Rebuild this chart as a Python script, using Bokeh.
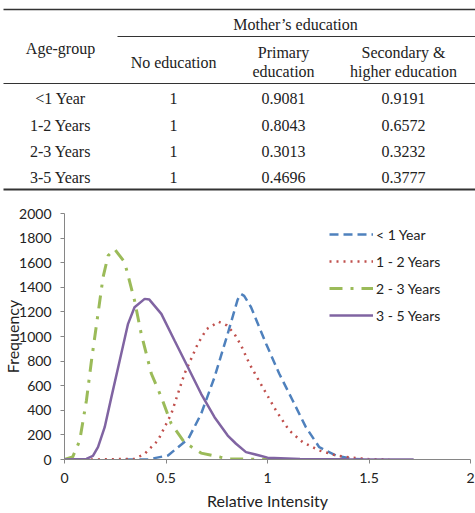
from bokeh.plotting import figure
from bokeh.layouts import column
from bokeh.models import Range1d, FixedTicker, Legend, LegendItem
from bokeh.embed import file_html
from bokeh.resources import INLINE

# ---------------- table data ----------------
age_groups = ["<1 Year", "1-2 Years", "2-3 Years", "3-5 Years"]
no_education = ["1", "1", "1", "1"]
primary_education = ["0.9081", "0.8043", "0.3013", "0.4696"]
secondary_higher = ["0.9191", "0.6572", "0.3232", "0.3777"]

# ---------------- chart data ----------------
series_names = ["< 1 Year", "1 - 2 Years", "2 - 3 Years", "3 - 5 Years"]

x_lt1 = [0.30, 0.41, 0.51, 0.61, 0.673, 0.739, 0.804, 0.853, 0.87, 0.885, 0.919, 0.993, 1.058, 1.124, 1.189, 1.255, 1.337, 1.419, 1.5]
y_lt1 = [0, 0, 33, 168, 371, 669, 1022, 1300, 1345, 1330, 1238, 941, 697, 480, 263, 100, 33, 5, 0]

x_1to2 = [0.13, 0.345, 0.395, 0.46, 0.526, 0.591, 0.657, 0.70, 0.76, 0.80, 0.837, 0.87, 0.911, 0.976, 1.042, 1.107, 1.173, 1.255, 1.337, 1.419, 1.5, 1.6]
y_1to2 = [0, 5, 46, 154, 371, 697, 941, 1060, 1120, 1090, 1022, 927, 778, 588, 398, 236, 141, 73, 33, 14, 3, 0]

x_2to3 = [0, 0.04, 0.075, 0.108, 0.133, 0.165, 0.19, 0.215, 0.247, 0.296, 0.345, 0.378, 0.428, 0.477, 0.526, 0.59, 0.673, 0.77, 0.82, 0.95, 1.0]
y_2to3 = [0, 20, 154, 480, 805, 1184, 1482, 1658, 1710, 1604, 1293, 1022, 697, 507, 290, 141, 52, 19, 5, 2, 0]

x_3to5 = [0, 0.108, 0.14, 0.165, 0.198, 0.231, 0.272, 0.313, 0.345, 0.395, 0.418, 0.477, 0.542, 0.608, 0.673, 0.739, 0.804, 0.845, 0.894, 0.96, 1.0, 1.16, 1.4, 1.72]
y_3to5 = [0, 5, 30, 100, 263, 507, 805, 1103, 1238, 1306, 1300, 1184, 967, 750, 534, 344, 195, 128, 60, 33, 15, 5, 2, 0]

x_ticks = [0, 0.5, 1, 1.5, 2]
x_tick_labels = ["0", "0.5", "1", "1.5", "2"]
y_ticks = list(range(0, 2001, 200))

# ---------------- table figure ----------------
TW, TH = 475, 198
SERIF = "Liberation Serif"
tbl = figure(width=TW, height=TH, x_range=Range1d(0, TW), y_range=Range1d(TH, 0),
             x_axis_location=None, y_axis_location=None, frame_align=False,
             output_backend="svg", toolbar_location=None, min_border=0)
tbl.grid.visible = False
tbl.outline_line_color = None

# rules
tbl.segment(x0=[3], y0=[9], x1=[475], y1=[9], line_color="#333333", line_width=1.5)
tbl.segment(x0=[117], y0=[36], x1=[475], y1=[36], line_color="#333333", line_width=1)
tbl.segment(x0=[3], y0=[83], x1=[475], y1=[83], line_color="#333333", line_width=1.2)
tbl.segment(x0=[3], y0=[189], x1=[475], y1=[189], line_color="#333333", line_width=2)

col_x = [60, 173, 283, 403]
hdr = dict(text_font=SERIF, text_font_size="16px", text_color="#222222",
           text_align="center", text_baseline="middle")
tbl.text(x=[295], y=[24], text=["Mother\u2019s education"], **hdr)
tbl.text(x=[col_x[0]], y=[48], text=["Age-group"], **hdr)
tbl.text(x=[col_x[1]], y=[62], text=["No education"], **hdr)
tbl.text(x=[col_x[2], col_x[2]], y=[52, 71], text=["Primary", "education"], **hdr)
tbl.text(x=[col_x[3], col_x[3]], y=[52, 71], text=["Secondary &", "higher education"], **hdr)

row_y = [98, 125, 151, 177]
for cx, vals in zip(col_x, [age_groups, no_education, primary_education, secondary_higher]):
    tbl.text(x=[cx] * len(vals), y=row_y, text=vals, **hdr)

# ---------------- chart figure ----------------
SANS = "Lato"
p = figure(width=475, height=315, x_range=Range1d(0, 2), y_range=Range1d(0, 2000),
           output_backend="svg", toolbar_location=None, frame_align=False,
           min_border_left=62, min_border_right=5, min_border_top=15, min_border_bottom=54)
p.grid.visible = False
p.outline_line_color = None

r1 = p.line(x_lt1, y_lt1, line_color="#4F81BD", line_width=2.5, line_dash="9 5")
r2 = p.line(x_1to2, y_1to2, line_color="#C0504D", line_width=2.5, line_dash="2 5")
r3 = p.line(x_2to3, y_2to3, line_color="#9BBB59", line_width=3, line_dash="13 8 3 8")
r4 = p.line(x_3to5, y_3to5, line_color="#8064A2", line_width=2.5)

for ax in (p.xaxis[0], p.yaxis[0]):
    ax.axis_line_color = "#868686"
    ax.major_tick_line_color = "#868686"
    ax.minor_tick_line_color = None
    ax.major_tick_in = 0
    ax.major_tick_out = 4
    ax.major_label_text_font = SANS
    ax.major_label_text_font_size = "14px"
    ax.major_label_text_color = "#222222"
    ax.axis_label_text_font = SANS
    ax.axis_label_text_font_size = "16px"
    ax.axis_label_text_font_style = "normal"
    ax.axis_label_text_color = "#222222"

p.xaxis.ticker = FixedTicker(ticks=x_ticks)
p.xaxis.major_label_overrides = {t: s for t, s in zip(x_ticks, x_tick_labels)}
p.xaxis.major_label_standoff = 9
p.xaxis.axis_label = "Relative Intensity"
p.xaxis.axis_label_standoff = 5
p.yaxis.ticker = FixedTicker(ticks=y_ticks)
p.yaxis.major_label_standoff = 9
p.yaxis.axis_label = "Frequency"
p.yaxis.axis_label_standoff = -6

legend = Legend(items=[LegendItem(label=n, renderers=[r]) for n, r in zip(series_names, [r1, r2, r3, r4])],
                location=(265, 134), orientation="vertical",
                glyph_width=44, glyph_height=20, label_height=20, spacing=7,
                label_standoff=3, padding=0, margin=0,
                border_line_color=None, background_fill_alpha=0,
                label_text_font=SANS, label_text_font_size="14px", label_text_color="#222222")
p.add_layout(legend)

layout = column(tbl, p, spacing=0)
open("out.html", "w").write(file_html(layout, INLINE))
